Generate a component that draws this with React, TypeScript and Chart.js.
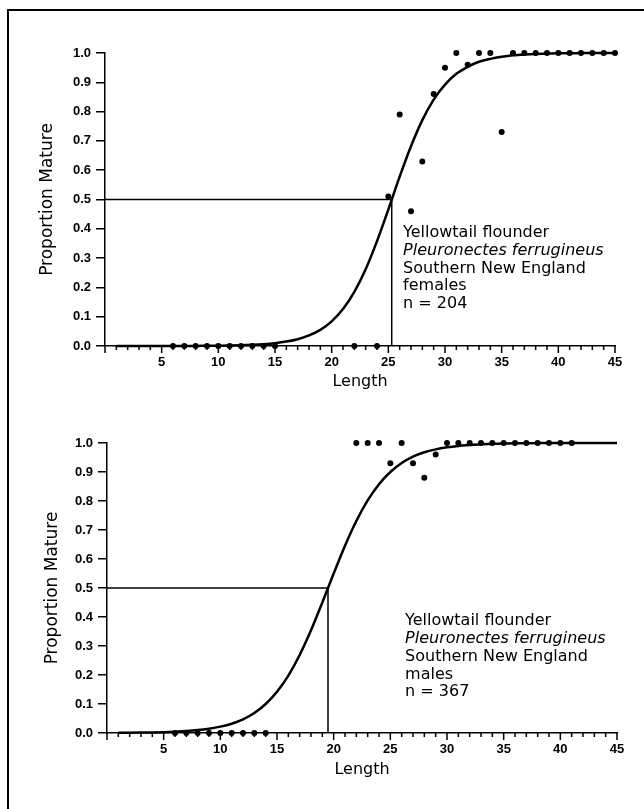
import React, { useEffect, useRef } from 'react';
import { Chart, registerables } from 'chart.js';

Chart.register(...registerables);

// ---- data ----
const curveLengths = [
  1, 2, 3, 4, 5, 6, 7, 8, 9, 10, 11, 12, 13, 14, 15, 16, 17, 18, 19, 20, 21, 22, 23,
  24, 25, 26, 27, 28, 29, 30, 31, 32, 33, 34, 35, 36, 37, 38, 39, 40, 41, 42, 43, 44, 45,
];

const femaleCurve = [
  0.0, 0.0, 0.0, 0.0001, 0.0001, 0.0002, 0.0003, 0.0004, 0.0007, 0.001, 0.0016, 0.0025,
  0.004, 0.0062, 0.0096, 0.015, 0.023, 0.036, 0.055, 0.084, 0.126, 0.185, 0.262, 0.358,
  0.466, 0.578, 0.682, 0.771, 0.841, 0.892, 0.929, 0.953, 0.97, 0.98, 0.987, 0.992, 0.995,
  0.997, 0.998, 0.999, 0.999, 1.0, 1.0, 1.0, 1.0,
];

const femaleObsLength = [
  6, 7, 8, 9, 10, 11, 12, 13, 14, 15, 22, 24, 25, 26, 27, 28, 29, 30, 31, 32, 33, 34, 35,
  36, 37, 38, 39, 40, 41, 42, 43, 44, 45,
];
const femaleObsProp = [
  0, 0, 0, 0, 0, 0, 0, 0, 0, 0, 0, 0, 0.51, 0.79, 0.46, 0.63, 0.86, 0.95, 1.0, 0.96, 1.0,
  1.0, 0.73, 1.0, 1.0, 1.0, 1.0, 1.0, 1.0, 1.0, 1.0, 1.0, 1.0,
];

const maleCurve = [
  0.0006, 0.0009, 0.0014, 0.002, 0.003, 0.0045, 0.0067, 0.01, 0.015, 0.022, 0.032, 0.047,
  0.069, 0.1, 0.142, 0.198, 0.269, 0.354, 0.45, 0.55, 0.646, 0.731, 0.802, 0.858, 0.9,
  0.931, 0.953, 0.968, 0.978, 0.985, 0.99, 0.993, 0.996, 0.997, 0.998, 0.999, 0.999, 1.0,
  1.0, 1.0, 1.0, 1.0, 1.0, 1.0, 1.0,
];

const maleObsLength = [
  6, 7, 8, 9, 10, 11, 12, 13, 14, 22, 23, 24, 25, 26, 27, 28, 29, 30, 31, 32, 33, 34, 35,
  36, 37, 38, 39, 40, 41,
];
const maleObsProp = [
  0, 0, 0, 0, 0, 0, 0, 0, 0, 1.0, 1.0, 1.0, 0.93, 1.0, 0.93, 0.88, 0.96, 1.0, 1.0, 1.0,
  1.0, 1.0, 1.0, 1.0, 1.0, 1.0, 1.0, 1.0, 1.0,
];

const femaleL50 = 25.3;
const maleL50 = 19.5;

const xTickLabels = [5, 10, 15, 20, 25, 30, 35, 40, 45];
const yTickLabels = ['0.0', '0.1', '0.2', '0.3', '0.4', '0.5', '0.6', '0.7', '0.8', '0.9', '1.0'];

const femaleNote = [
  'Yellowtail flounder',
  'Pleuronectes ferrugineus',
  'Southern New England',
  'females',
  'n = 204',
];
const maleNote = [
  'Yellowtail flounder',
  'Pleuronectes ferrugineus',
  'Southern New England',
  'males',
  'n = 367',
];

// ---- drawing ----
const extrasPlugin = {
  id: 'extras',
  beforeDatasetsDraw(chart: any, _a: any, opts: any) {
    const { ctx, scales } = chart;
    const x = scales.x;
    const y = scales.y;
    const x0 = x.getPixelForValue(0);
    const xl = x.getPixelForValue(opts.l50);
    const y5 = y.getPixelForValue(0.5);
    const y0 = y.getPixelForValue(0);
    ctx.save();
    ctx.strokeStyle = '#000';
    ctx.lineWidth = 1.5;
    ctx.beginPath();
    ctx.moveTo(x0, y5);
    ctx.lineTo(xl, y5);
    ctx.moveTo(xl, y5);
    ctx.lineTo(xl, y0);
    ctx.stroke();
    ctx.restore();
  },
  afterDraw(chart: any, _a: any, opts: any) {
    const { ctx, scales } = chart;
    const x = scales.x;
    const y = scales.y;
    const y0 = y.getPixelForValue(0);
    ctx.save();
    ctx.strokeStyle = '#000';
    ctx.lineWidth = 1.5;
    ctx.beginPath();
    for (let v = 0; v <= 45; v++) {
      const px = x.getPixelForValue(v);
      const len = v % 5 === 0 ? 7 : 4;
      ctx.moveTo(px, y0);
      ctx.lineTo(px, y0 + len);
    }
    ctx.stroke();

    const tx = x.getPixelForValue(26.3);
    const ty = y.getPixelForValue(0.386);
    ctx.fillStyle = '#000';
    ctx.textBaseline = 'middle';
    ctx.textAlign = 'left';
    (opts.lines as string[]).forEach((line, i) => {
      ctx.font = (i === 1 ? 'italic ' : '') + '16px "DejaVu Sans"';
      ctx.fillText(line, tx, ty + i * 17.8);
    });
    ctx.restore();
  },
};

type PanelProps = {
  top: number;
  height: number;
  obsX: number[];
  obsY: number[];
  curve: number[];
  l50: number;
  note: string[];
  axisLeft: number;
  padRight: number;
  padTop: number;
  xAxisHeight: number;
  xTitlePad: number;
  yTitlePad: number;
};

function Panel(p: PanelProps) {
  const ref = useRef<HTMLCanvasElement | null>(null);
  useEffect(() => {
    if (!ref.current) return;
    const tickFont = { family: '"Liberation Sans", Arial, sans-serif', size: 13, weight: 'bold' as const };
    const chart = new Chart(ref.current, {
      type: 'scatter',
      data: {
        datasets: [
          {
            type: 'line',
            data: curveLengths.map((l, i) => ({ x: l, y: p.curve[i] })),
            borderColor: '#000',
            borderWidth: 2.5,
            pointRadius: 0,
            fill: false,
            cubicInterpolationMode: 'monotone',
            clip: false,
          } as any,
          {
            type: 'scatter',
            data: p.obsX.map((l, i) => ({ x: l, y: p.obsY[i] })),
            backgroundColor: '#000',
            borderColor: '#000',
            borderWidth: 0,
            pointRadius: 3,
            clip: false,
          } as any,
        ],
      },
      options: {
        responsive: false,
        animation: false,
        devicePixelRatio: 1,
        layout: { padding: { top: p.padTop, right: p.padRight, left: 0, bottom: 0 } },
        plugins: {
          legend: { display: false },
          tooltip: { enabled: false },
          extras: { l50: p.l50, lines: p.note },
        } as any,
        scales: {
          x: {
            type: 'linear',
            min: 0,
            max: 45,
            afterFit: (s: any) => {
              s.height = p.xAxisHeight;
            },
            border: { display: true, color: '#000', width: 1.5 },
            grid: { display: true, drawOnChartArea: false, drawTicks: false },
            afterBuildTicks: (s: any) => {
              s.ticks = [0, ...xTickLabels].map((v) => ({ value: v }));
            },
            ticks: {
              autoSkip: false,
              maxRotation: 0,
              padding: 9,
              color: '#000',
              font: tickFont,
              callback: (v: any) => (xTickLabels.includes(Number(v)) ? String(v) : ''),
            },
            title: {
              display: true,
              text: 'Length',
              color: '#000',
              font: { family: '"DejaVu Sans", sans-serif', size: 16 },
              padding: { top: 0, bottom: p.xTitlePad },
            },
          },
          y: {
            type: 'linear',
            min: 0,
            max: 1,
            afterFit: (s: any) => {
              s.width = p.axisLeft;
            },
            afterBuildTicks: (s: any) => {
              s.ticks = yTickLabels.map((t) => ({ value: Number(t) }));
            },
            border: { display: true, color: '#000', width: 1.5 },
            grid: { display: true, drawOnChartArea: false, drawTicks: true, tickLength: 9, color: '#000', lineWidth: 1.5 },
            ticks: {
              autoSkip: false,
              padding: 5,
              color: '#000',
              font: tickFont,
              callback: (v: any) => Number(v).toFixed(1),
            },
            title: {
              display: true,
              text: 'Proportion Mature',
              color: '#000',
              font: { family: '"DejaVu Sans", sans-serif', size: 17 },
              padding: { top: p.yTitlePad, bottom: 0 },
            },
          },
        },
      },
      plugins: [extrasPlugin as any],
    });
    return () => chart.destroy();
  }, []);
  return (
    <canvas
      ref={ref}
      width={644}
      height={p.height}
      style={{ position: 'absolute', left: 0, top: p.top, width: 644, height: p.height }}
    />
  );
}

export default function App() {
  return (
    <div
      style={{
        position: 'absolute',
        left: 0,
        top: 0,
        width: 644,
        height: 809,
        background: '#fff',
        overflow: 'hidden',
      }}
    >
      <div
        style={{
          position: 'absolute',
          left: 7,
          top: 9,
          width: 637,
          height: 800,
          boxSizing: 'border-box',
          borderTop: '2px solid #000',
          borderLeft: '2px solid #000',
        }}
      />
      <Panel
        top={0}
        height={400}
        obsX={femaleObsLength}
        obsY={femaleObsProp}
        curve={femaleCurve}
        l50={femaleL50}
        note={femaleNote}
        axisLeft={105}
        padRight={29}
        padTop={53}
        xAxisHeight={54}
        xTitlePad={9}
        yTitlePad={37}
      />
      <Panel
        top={390}
        height={419}
        obsX={maleObsLength}
        obsY={maleObsProp}
        curve={maleCurve}
        l50={maleL50}
        note={maleNote}
        axisLeft={107}
        padRight={27}
        padTop={53}
        xAxisHeight={76}
        xTitlePad={30}
        yTitlePad={42}
      />
    </div>
  );
}
